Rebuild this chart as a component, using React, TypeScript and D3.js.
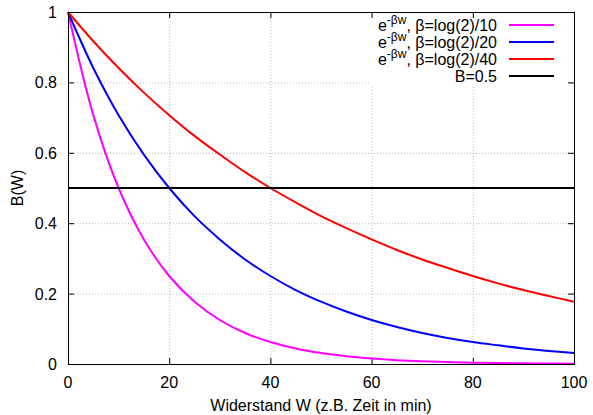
import React, { useEffect, useRef } from 'react';
import * as d3 from 'd3';

const wValues = [0, 5, 10, 15, 20, 25, 30, 35, 40, 45, 50, 55, 60, 65, 70, 75, 80, 85, 90, 95, 100];

// B(W) read for beta = log(2)/10
const bBeta10 = [1, 0.707, 0.5, 0.354, 0.25, 0.177, 0.125, 0.088, 0.0625, 0.044, 0.031, 0.022, 0.0156, 0.011, 0.0078, 0.0055, 0.0039, 0.0028, 0.002, 0.0014, 0.001];
// B(W) read for beta = log(2)/20
const bBeta20 = [1, 0.841, 0.707, 0.595, 0.5, 0.42, 0.354, 0.297, 0.25, 0.21, 0.177, 0.149, 0.125, 0.105, 0.088, 0.074, 0.0625, 0.053, 0.044, 0.037, 0.031];
// B(W) read for beta = log(2)/40
const bBeta40 = [1, 0.917, 0.841, 0.771, 0.707, 0.648, 0.595, 0.545, 0.5, 0.459, 0.42, 0.386, 0.354, 0.324, 0.297, 0.273, 0.25, 0.229, 0.21, 0.193, 0.177];
// horizontal reference line
const threshold = 0.5;

const xTicks = [0, 20, 40, 60, 80, 100];
const yTicks = [0, 0.2, 0.4, 0.6, 0.8, 1];
const yTickLabels = ['0', '0.2', '0.4', '0.6', '0.8', '1'];

const seriesLabels = ['log(2)/10', 'log(2)/20', 'log(2)/40'];
const seriesColors = ['#ff00ff', '#0000ff', '#ff0000'];

const WIDTH = 593;
const HEIGHT = 415;
const FONT = '"Liberation Sans", Arial, Helvetica, sans-serif';
const FS = '16px';

export default function App() {
  const svgRef = useRef<SVGSVGElement>(null);

  useEffect(() => {
    if (!svgRef.current) return;
    const svg = d3.select(svgRef.current);
    svg.selectAll('*').remove();

    const margin = { top: 12, right: 19, bottom: 51, left: 68 };
    const innerWidth = WIDTH - margin.left - margin.right;
    const innerHeight = HEIGHT - margin.top - margin.bottom;

    const xScale = d3.scaleLinear().domain([0, 100]).range([0, innerWidth]);
    const yScale = d3.scaleLinear().domain([0, 1]).range([innerHeight, 0]);

    svg.append('rect').attr('width', WIDTH).attr('height', HEIGHT).attr('fill', '#fff');

    const g = svg.append('g').attr('transform', `translate(${margin.left},${margin.top})`);

    // grid
    g.append('g')
      .selectAll('line')
      .data(xTicks.slice(1, -1))
      .enter()
      .append('line')
      .attr('x1', (d) => xScale(d) + 0.5)
      .attr('x2', (d) => xScale(d) + 0.5)
      .attr('y1', 0)
      .attr('y2', innerHeight)
      .attr('stroke', '#b8b8b8')
      .attr('stroke-width', 1)
      .attr('stroke-dasharray', '1,2');

    g.append('g')
      .selectAll('line')
      .data(yTicks.slice(1, -1))
      .enter()
      .append('line')
      .attr('x1', 0)
      .attr('x2', innerWidth)
      .attr('y1', (d) => yScale(d) + 0.5)
      .attr('y2', (d) => yScale(d) + 0.5)
      .attr('stroke', '#b8b8b8')
      .attr('stroke-width', 1)
      .attr('stroke-dasharray', '1,2');

    // legend background covers the grid
    const legendRight = innerWidth - 7;
    g.append('rect')
      .attr('x', 302)
      .attr('y', 1)
      .attr('width', legendRight - 302)
      .attr('height', 74)
      .attr('fill', '#fff');

    // ticks (inward, mirrored)
    const tickLen = 6;
    const ticks = g.append('g').attr('stroke', '#000').attr('stroke-width', 1);
    xTicks.forEach((t) => {
      const x = xScale(t) + 0.5;
      ticks.append('line').attr('x1', x).attr('x2', x).attr('y1', innerHeight).attr('y2', innerHeight - tickLen);
      ticks.append('line').attr('x1', x).attr('x2', x).attr('y1', 0).attr('y2', tickLen);
    });
    yTicks.forEach((t) => {
      const y = yScale(t) + 0.5;
      ticks.append('line').attr('x1', 0).attr('x2', tickLen).attr('y1', y).attr('y2', y);
      ticks.append('line').attr('x1', innerWidth).attr('x2', innerWidth - tickLen).attr('y1', y).attr('y2', y);
    });

    // tick labels
    g.append('g')
      .selectAll('text')
      .data(xTicks)
      .enter()
      .append('text')
      .attr('x', (d) => xScale(d))
      .attr('y', innerHeight + 24)
      .attr('text-anchor', 'middle')
      .style('font-family', FONT)
      .style('font-size', FS)
      .text((d) => String(d));

    g.append('g')
      .selectAll('text')
      .data(yTicks)
      .enter()
      .append('text')
      .attr('x', -11)
      .attr('y', (d) => yScale(d) + 6)
      .attr('text-anchor', 'end')
      .style('font-family', FONT)
      .style('font-size', FS)
      .text((_, i) => yTickLabels[i]);

    // axis titles
    g.append('text')
      .attr('x', innerWidth / 2)
      .attr('y', innerHeight + 47)
      .attr('text-anchor', 'middle')
      .style('font-family', FONT)
      .style('font-size', FS)
      .text('Widerstand W (z.B. Zeit in min)');

    g.append('text')
      .attr('transform', `translate(${-45},${innerHeight / 2}) rotate(-90)`)
      .attr('text-anchor', 'middle')
      .style('font-family', FONT)
      .style('font-size', FS)
      .text('B(W)');

    // curves
    const line = d3
      .line<[number, number]>()
      .x((d) => xScale(d[0]))
      .y((d) => yScale(d[1]))
      .curve(d3.curveCatmullRom.alpha(0.5));

    const allSeries = [bBeta10, bBeta20, bBeta40];
    const plot = g.append('g');

    allSeries.forEach((vals, i) => {
      plot
        .append('path')
        .datum(wValues.map((w, j) => [w, vals[j]] as [number, number]))
        .attr('d', line)
        .attr('fill', 'none')
        .attr('stroke', seriesColors[i])
        .attr('stroke-width', 2);
    });

    plot
      .append('line')
      .attr('x1', xScale(0))
      .attr('x2', xScale(100))
      .attr('y1', yScale(threshold))
      .attr('y2', yScale(threshold))
      .attr('stroke', '#000')
      .attr('stroke-width', 2);

    // border
    g.append('rect')
      .attr('x', 0.5)
      .attr('y', 0.5)
      .attr('width', innerWidth)
      .attr('height', innerHeight)
      .attr('fill', 'none')
      .attr('stroke', '#000')
      .attr('stroke-width', 1);

    // legend
    const legend = g.append('g');
    const rowY = [13, 30, 47, 64];
    const textRight = 429;
    const sampleX1 = 441;
    const sampleX2 = 486;

    seriesLabels.forEach((lab, i) => {
      const t = legend
        .append('text')
        .attr('x', textRight)
        .attr('y', rowY[i] + 6)
        .attr('text-anchor', 'end')
        .style('font-family', FONT)
        .style('font-size', FS);
      t.append('tspan').text('e');
      t.append('tspan').attr('dy', -7).style('font-size', '12px').text('-\u03b2w');
      t.append('tspan').attr('dy', 7).text(`, \u03b2=${lab}`);
      legend
        .append('line')
        .attr('x1', sampleX1)
        .attr('x2', sampleX2)
        .attr('y1', rowY[i])
        .attr('y2', rowY[i])
        .attr('stroke', seriesColors[i])
        .attr('stroke-width', 2);
    });

    legend
      .append('text')
      .attr('x', textRight)
      .attr('y', rowY[3] + 6)
      .attr('text-anchor', 'end')
      .style('font-family', FONT)
      .style('font-size', FS)
      .text('B=0.5');
    legend
      .append('line')
      .attr('x1', sampleX1)
      .attr('x2', sampleX2)
      .attr('y1', rowY[3])
      .attr('y2', rowY[3])
      .attr('stroke', '#000')
      .attr('stroke-width', 2);
  }, []);

  return (
    <svg
      ref={svgRef}
      width={WIDTH}
      height={HEIGHT}
      style={{ position: 'absolute', left: 0, top: 0 }}
    />
  );
}
